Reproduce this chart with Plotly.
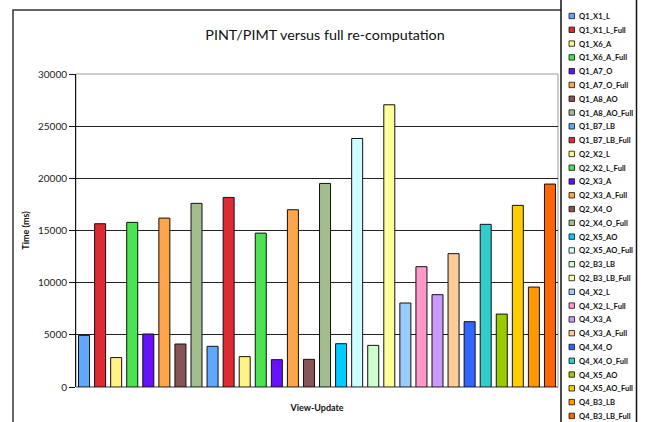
import plotly.graph_objects as go

# ---- data ----
series_names = [
    "Q1_X1_L", "Q1_X1_L_Full", "Q1_X6_A", "Q1_X6_A_Full", "Q1_A7_O", "Q1_A7_O_Full",
    "Q1_A8_AO", "Q1_A8_AO_Full", "Q1_B7_LB", "Q1_B7_LB_Full", "Q2_X2_L", "Q2_X2_L_Full",
    "Q2_X3_A", "Q2_X3_A_Full", "Q2_X4_O", "Q2_X4_O_Full", "Q2_X5_AO", "Q2_X5_AO_Full",
    "Q2_B3_LB", "Q2_B3_LB_Full", "Q4_X2_L", "Q4_X2_L_Full", "Q4_X3_A", "Q4_X3_A_Full",
    "Q4_X4_O", "Q4_X4_O_Full", "Q4_X5_AO", "Q4_X5_AO_Full", "Q4_B3_LB", "Q4_B3_LB_Full",
]
time_ms = [
    4950, 15650, 2820, 15780, 5080, 16190,
    4120, 17600, 3900, 18170, 2910, 14750,
    2620, 16990, 2650, 19510, 4150, 23820,
    3990, 27050, 8050, 11530, 8850, 12780,
    6260, 15590, 6990, 17410, 9580, 19450,
]
colors = [
    "#5EA9FF", "#E02A33", "#FFF385", "#4CE352", "#6610FF", "#FFA64A",
    "#875457", "#A3BD8F", "#5EA9FF", "#E02A33", "#FFF385", "#4CE352",
    "#6610FF", "#FFA64A", "#875457", "#A3BD8F", "#00CCFF", "#CCFFFF",
    "#CCFFCC", "#FFFF99", "#99CCFF", "#FF99CC", "#CC99FF", "#FFCC99",
    "#3366FF", "#33CCCC", "#99CC00", "#FFCC00", "#FF9900", "#FF6600",
]
y_ticks = [0, 5000, 10000, 15000, 20000, 25000, 30000]
title_text = "PINT/PIMT versus full re-computation"
y_title = "Time (ms)"
x_title = "View-Update"

# ---- geometry (pixels) ----
W, H = 647, 422
L, R, T, B = 76, 89, 74, 35
pw, ph = W - L - R, H - T - B
FONT = "Lato, Liberation Sans, Arial, sans-serif"


def px_x(x):
    return (x - L) / pw


def px_y(y):
    return (H - B - y) / ph


fig = go.Figure()
for name, val, col in zip(series_names, time_ms, colors):
    fig.add_trace(go.Bar(
        x=[name], y=[val], name=name,
        marker=dict(color=col, line=dict(color="#111111", width=1)),
        showlegend=False,
    ))

shapes = []
annotations = []

# outer chart border
shapes.append(dict(type="rect", xref="paper", yref="paper",
                   x0=px_x(13), x1=px_x(600), y0=px_y(440), y1=px_y(10),
                   line=dict(color="#333333", width=1.5), fillcolor="rgba(0,0,0,0)",
                   layer="below"))
# plot area border (gray)
shapes.append(dict(type="rect", xref="paper", yref="paper",
                   x0=0, x1=1, y0=0, y1=1,
                   line=dict(color="#999999", width=1), fillcolor="rgba(0,0,0,0)",
                   layer="below"))
# legend box
shapes.append(dict(type="rect", xref="paper", yref="paper",
                   x0=px_x(561), x1=px_x(636.5), y0=px_y(430), y1=px_y(-5),
                   line=dict(color="#111111", width=1.5), fillcolor="white",
                   layer="above"))

y0_leg, dy_leg = 16, 13.79
for i, (name, col) in enumerate(zip(series_names, colors)):
    cy = y0_leg + i * dy_leg
    shapes.append(dict(type="rect", xref="paper", yref="paper",
                       x0=px_x(569), x1=px_x(574.5), y0=px_y(cy + 2.7), y1=px_y(cy - 2.7),
                       line=dict(color="#111111", width=0.8), fillcolor=col, layer="above"))
    annotations.append(dict(text=name, xref="paper", yref="paper",
                            x=px_x(576.5), y=px_y(cy), xanchor="left", yanchor="middle",
                            showarrow=False,
                            font=dict(family=FONT, size=7.6, color="#111111", weight="bold")))

fig.update_layout(
    width=W, height=H,
    margin=dict(l=L, r=R, t=T, b=B, pad=0),
    paper_bgcolor="white", plot_bgcolor="white",
    barmode="overlay", bargap=0.315,
    font=dict(family=FONT, color="#222222"),
    title=dict(text=title_text, x=325 / W, xref="container", xanchor="center",
               y=1 - 35 / H, yref="container", yanchor="middle",
               font=dict(family=FONT, size=14.3, color="#111111")),
    xaxis=dict(categoryorder="array", categoryarray=series_names,
               showticklabels=False, ticks="", showgrid=False, showline=False,
               title=dict(text=x_title, standoff=17,
                          font=dict(family=FONT, size=9, color="#111111", weight="bold"))),
    yaxis=dict(range=[0, 30000], tickvals=y_ticks, ticktext=[str(v) for v in y_ticks],
               showgrid=True, gridcolor="#222222", gridwidth=1,
               zeroline=True, zerolinecolor="#999999", zerolinewidth=2,
               showline=True, linecolor="#111111", linewidth=1,
               ticks="outside", ticklen=6, tickcolor="#111111",
               tickfont=dict(family=FONT, size=10, color="#222222"),
               title=dict(text=y_title, standoff=6,
                          font=dict(family=FONT, size=9, color="#111111", weight="bold"))),
    shapes=shapes, annotations=annotations,
)

fig.write_html("out.html",
               config={"displayModeBar": False},
               post_script="document.body.style.margin='0';document.body.style.overflow='hidden';")
